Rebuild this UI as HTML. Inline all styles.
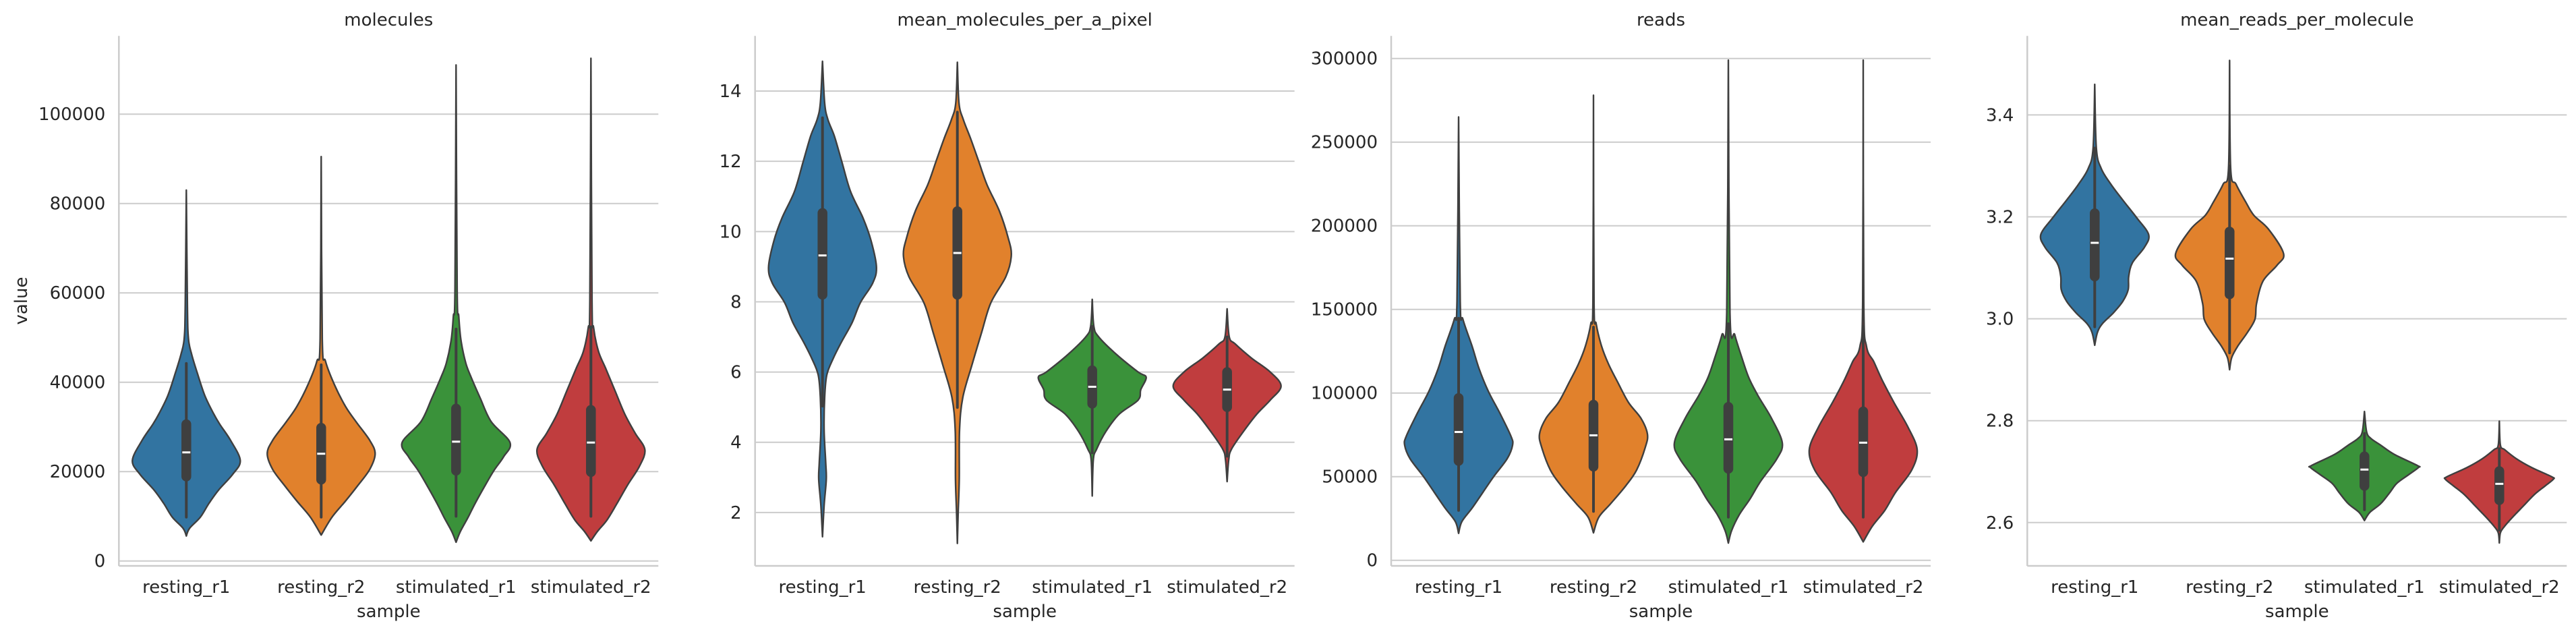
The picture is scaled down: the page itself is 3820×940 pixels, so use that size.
<!DOCTYPE html>
<html><head><meta charset="utf-8">
<style>
html,body{margin:0;padding:0;background:#fff;}
svg{display:block;}
text{font-family:"DejaVu Sans","Liberation Sans",sans-serif;fill:#262626;}
</style></head>
<body>
<svg id="chart" width="3820" height="940" viewBox="0 0 3820 940" xmlns="http://www.w3.org/2000/svg"></svg>
<script>
// ---------- data ----------
const categories = ["resting_r1","resting_r2","stimulated_r1","stimulated_r2"];
const colors = ["#3274a1","#e1812c","#3a923a","#c03d3e"];
const panelTitles = ["molecules","mean_molecules_per_a_pixel","reads","mean_reads_per_molecule"];

// y ticks per panel
const molTicks = [0,20000,40000,60000,80000,100000];
const molTickLabels = ["0","20000","40000","60000","80000","100000"];
const mmpTicks = [2,4,6,8,10,12,14];
const mmpTickLabels = ["2","4","6","8","10","12","14"];
const readTicks = [0,50000,100000,150000,200000,250000,300000];
const readTickLabels = ["0","50000","100000","150000","200000","250000","300000"];
const mrpmTicks = [2.6,2.8,3.0,3.2,3.4];
const mrpmTickLabels = ["2.6","2.8","3.0","3.2","3.4"];

// y domains [bottom, top]
const molDomain = [-1100, 117500];
const mmpDomain = [0.48, 15.57];
const readDomain = [-3350, 313470];
const mrpmDomain = [2.515, 3.555];

// violin density profiles: [value, relative half-width]
const molProfiles = [
 [[83000,0],[57300,0.02],[49700,0.04],[46200,0.1],[42200,0.2],[37100,0.34],[33100,0.5],[30600,0.62],[27000,0.82],[22500,1.0],[19400,0.86],[15900,0.6],[12900,0.42],[9800,0.26],[7300,0.06],[5600,0]],
 [[90500,0],[49700,0.02],[44700,0.08],[39600,0.24],[34600,0.45],[31100,0.65],[27000,0.9],[24000,1.0],[20500,0.9],[16900,0.68],[13400,0.45],[9800,0.2],[5800,0]],
 [[111000,0],[61000,0.02],[54800,0.05],[49500,0.09],[44300,0.18],[41100,0.28],[36400,0.45],[31200,0.65],[26500,1.0],[23300,0.88],[20200,0.7],[16500,0.52],[12800,0.35],[9700,0.22],[6600,0.08],[4200,0]],
 [[112500,0],[58400,0.02],[52200,0.05],[46900,0.14],[43200,0.27],[38000,0.45],[32800,0.63],[28600,0.82],[24900,1.0],[21200,0.9],[17000,0.68],[12800,0.48],[9200,0.3],[6600,0.12],[4500,0]]
];
const mmpProfiles = [
 [[14.85,0],[13.66,0.04],[13.19,0.1],[12.72,0.22],[11.98,0.36],[11.14,0.52],[10.39,0.75],[9.74,0.9],[8.99,1.0],[8.53,0.93],[7.97,0.7],[7.41,0.55],[6.85,0.35],[6.39,0.2],[5.92,0.08],[5.27,0.04],[4.34,0.03],[3.41,0.06],[2.94,0.07],[2.2,0.03],[1.31,0]],
 [[14.82,0],[13.66,0.03],[13.19,0.11],[12.63,0.25],[11.98,0.4],[11.33,0.55],[10.58,0.78],[9.83,0.94],[9.32,1.0],[8.72,0.9],[7.97,0.62],[7.13,0.45],[6.2,0.27],[5.27,0.1],[4.34,0.04],[2.94,0.035],[2.0,0.015],[1.12,0]],
 [[8.07,0],[7.3,0.03],[7.0,0.12],[6.5,0.45],[6.0,0.85],[5.85,1.0],[5.5,0.9],[5.2,0.85],[4.8,0.5],[4.3,0.25],[3.8,0.08],[3.5,0.02],[2.47,0]],
 [[7.8,0],[7.0,0.04],[6.8,0.15],[6.4,0.45],[6.0,0.8],[5.6,1.0],[5.2,0.8],[4.8,0.55],[4.3,0.3],[3.8,0.08],[3.5,0.03],[2.88,0]]
];
const readProfiles = [
 [[265000,0],[154800,0.03],[144100,0.08],[128000,0.25],[114500,0.38],[101100,0.55],[87600,0.77],[74200,0.97],[68800,1.0],[60700,0.9],[50000,0.65],[40600,0.45],[31200,0.25],[23100,0.06],[16100,0]],
 [[278000,0],[154800,0.01],[141400,0.05],[128000,0.15],[117200,0.28],[106400,0.45],[94300,0.65],[84900,0.88],[75500,1.0],[67500,0.96],[54000,0.8],[44600,0.6],[33900,0.32],[25800,0.1],[16400,0]],
 [[299000,0],[148100,0.03],[134700,0.12],[121200,0.25],[109100,0.38],[98400,0.55],[84900,0.8],[70200,1.0],[60700,0.9],[47300,0.6],[36600,0.4],[27100,0.2],[17700,0.06],[10300,0]],
 [[299000,0],[154800,0.01],[128000,0.06],[118500,0.2],[107800,0.35],[94300,0.57],[79600,0.83],[66100,1.0],[54000,0.9],[40600,0.6],[29800,0.4],[20400,0.17],[11000,0]]
];
const mrpmProfiles = [
 [[3.46,0],[3.335,0.03],[3.295,0.12],[3.264,0.3],[3.233,0.52],[3.198,0.78],[3.165,1.0],[3.14,0.92],[3.11,0.7],[3.083,0.63],[3.057,0.62],[3.034,0.52],[3.012,0.35],[2.99,0.14],[2.973,0.05],[2.948,0]],
 [[3.507,0],[3.295,0.02],[3.264,0.12],[3.229,0.3],[3.203,0.45],[3.176,0.72],[3.128,1.0],[3.105,0.88],[3.074,0.62],[3.03,0.5],[2.999,0.47],[2.973,0.33],[2.946,0.15],[2.924,0.04],[2.9,0]],
 [[2.818,0],[2.778,0.04],[2.765,0.12],[2.752,0.3],[2.734,0.55],[2.712,0.98],[2.708,1.0],[2.694,0.82],[2.677,0.6],[2.659,0.47],[2.637,0.3],[2.62,0.1],[2.604,0]],
 [[2.799,0],[2.752,0.02],[2.743,0.1],[2.725,0.32],[2.708,0.6],[2.69,0.97],[2.685,1.0],[2.672,0.85],[2.655,0.65],[2.633,0.45],[2.611,0.25],[2.593,0.1],[2.58,0.02],[2.56,0]]
];

// box stats: [whiskerLow, q1, median, q3, whiskerHigh]
const molBoxes = [[9800,18900,24300,30600,44200],[9800,18200,24000,29800,43900],[10000,20200,26700,34100,51900],[10000,19900,26500,33800,52400]];
const mmpBoxes = [[5.03,8.2,9.32,10.53,13.24],[4.99,8.2,9.39,10.58,13.4],[3.7,5.1,5.58,6.05,7.3],[3.6,5.0,5.5,6.0,7.0]];
const readBoxes = [[29800,59400,76700,97000,144700],[29200,56000,74700,93000,139400],[25800,54700,72300,91700,141400],[25800,52700,70300,89000,140000]];
const mrpmBoxes = [[2.984,3.083,3.149,3.207,3.335],[2.933,3.048,3.118,3.171,3.30],[2.625,2.672,2.704,2.73,2.775],[2.585,2.644,2.676,2.701,2.745]];

// ---------- rendering ----------
const NS = "http://www.w3.org/2000/svg";
const svg = document.getElementById("chart");
const panelLefts = [176.3, 1119.7, 2063, 3006.3];
const PW = 800, TOP = 53.3, BOT = 839;
const GRID = "#cccccc", EDGE = "#3f3f3f";

function mk(tag, attrs, parent){
  const e = document.createElementNS(NS, tag);
  for (const k in attrs) e.setAttribute(k, attrs[k]);
  (parent||svg).appendChild(e);
  return e;
}
function crPath(pts){
  let d = "M" + pts[0][0].toFixed(2) + "," + pts[0][1].toFixed(2);
  for (let i=0;i<pts.length-1;i++){
    const p0 = pts[Math.max(0,i-1)], p1 = pts[i], p2 = pts[i+1], p3 = pts[Math.min(pts.length-1,i+2)];
    const c1 = [p1[0]+(p2[0]-p0[0])/6, p1[1]+(p2[1]-p0[1])/6];
    const c2 = [p2[0]-(p3[0]-p1[0])/6, p2[1]-(p3[1]-p1[1])/6];
    d += " C"+c1[0].toFixed(2)+","+c1[1].toFixed(2)+" "+c2[0].toFixed(2)+","+c2[1].toFixed(2)+" "+p2[0].toFixed(2)+","+p2[1].toFixed(2);
  }
  return d;
}

const panels = [
  {ticks:molTicks, labels:molTickLabels, domain:molDomain, profiles:molProfiles, boxes:molBoxes},
  {ticks:mmpTicks, labels:mmpTickLabels, domain:mmpDomain, profiles:mmpProfiles, boxes:mmpBoxes},
  {ticks:readTicks, labels:readTickLabels, domain:readDomain, profiles:readProfiles, boxes:readBoxes},
  {ticks:mrpmTicks, labels:mrpmTickLabels, domain:mrpmDomain, profiles:mrpmProfiles, boxes:mrpmBoxes}
];

panels.forEach(function(p, pi){
  const L = panelLefts[pi];
  const yScale = function(v){ return BOT - (v - p.domain[0])/(p.domain[1]-p.domain[0])*(BOT-TOP); };
  const xScale = function(i){ return L + PW/categories.length*(i+0.5); };
  const g = mk("g", {});
  
  

  // gridlines + tick labels
  p.ticks.forEach(function(t, ti){
    const y = yScale(t);
    const gl = mk("line", {x1:L, x2:L+PW, y1:y, y2:y, stroke:GRID, "stroke-width":2}, g);
    
    
    const tl = mk("text", {x:L-20, y:y+9, "text-anchor":"end", "font-size":26}, g);
    tl.textContent = p.labels[ti];
    
    
  });
  // spines
  const ls = mk("line", {x1:L, x2:L, y1:TOP, y2:BOT, stroke:GRID, "stroke-width":2.5}, g);
  
  
  const bs = mk("line", {x1:L, x2:L+PW, y1:BOT, y2:BOT, stroke:GRID, "stroke-width":2.5}, g);
  
  

  // violins
  categories.forEach(function(c, ci){
    const cx = xScale(ci);
    const half = 80;
    const prof = p.profiles[ci];
    const right = prof.map(function(q){ return [cx + q[1]*half, yScale(q[0])]; });
    const left = prof.slice().reverse().map(function(q){ return [cx - q[1]*half, yScale(q[0])]; });
    const d = crPath(right) + " L" + crPath(left).slice(1) + " Z";
    const vp = mk("path", {d:d, fill:colors[ci], stroke:EDGE, "stroke-width":2.4, "stroke-linejoin":"round"}, g);
    
    

    const b = p.boxes[ci];
    const wl = mk("line", {x1:cx, x2:cx, y1:yScale(b[0]), y2:yScale(b[4]), stroke:EDGE, "stroke-width":4, "stroke-linecap":"round"}, g);
    
    
    const bx = mk("line", {x1:cx, x2:cx, y1:yScale(b[1]), y2:yScale(b[3]), stroke:EDGE, "stroke-width":14.5, "stroke-linecap":"round"}, g);
    
    
    const my = yScale(b[2]);
    const md = mk("line", {x1:cx-6, x2:cx+6, y1:my, y2:my, stroke:"#ffffff", "stroke-width":3}, g);
    
    

    const xl = mk("text", {x:cx, y:879, "text-anchor":"middle", "font-size":26}, g);
    xl.textContent = c;
    
    
  });

  const tt = mk("text", {x:L+PW/2, y:38, "text-anchor":"middle", "font-size":26}, g);
  tt.textContent = panelTitles[pi];
  
  
  const xt = mk("text", {x:L+PW/2, y:915, "text-anchor":"middle", "font-size":26}, g);
  xt.textContent = "sample";
  
  
});

const yt = mk("text", {x:0, y:0, "text-anchor":"middle", "font-size":26, transform:"translate(40,446) rotate(-90)"});
yt.textContent = "value";


</script>
</body></html>
